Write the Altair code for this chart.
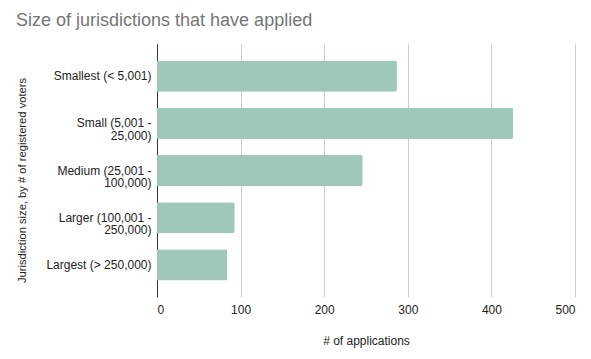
import altair as alt
import pandas as pd

categories = [
    "Smallest (< 5,001)",
    "Small (5,001 -|25,000)",
    "Medium (25,001 -|100,000)",
    "Larger (100,001 -|250,000)",
    "Largest (> 250,000)",
]
applications = [287, 426, 246, 93, 84]
x_ticks = [0, 100, 200, 300, 400, 500]

df = pd.DataFrame({"category": categories, "applications": applications})

FONT = "Liberation Sans"

chart = (
    alt.Chart(df)
    .mark_bar(color="#9fc8bb", cornerRadiusTopRight=2, cornerRadiusBottomRight=2)
    .encode(
        x=alt.X(
            "applications:Q",
            scale=alt.Scale(domain=[0, 500], nice=False),
            axis=alt.Axis(
                values=x_ticks,
                title="# of applications",
                domain=False,
                ticks=False,
                grid=True,
                gridColor="#cccccc",
                labelPadding=7,
                titlePadding=20,
            ),
        ),
        y=alt.Y(
            "category:N",
            sort=categories,
            scale=alt.Scale(paddingInner=0.34, paddingOuter=0.35),
            axis=alt.Axis(
                title="Jurisdiction size, by # of registered voters",
                labelExpr="split(datum.label, '|')",
                domain=True,
                domainColor="#333333",
                ticks=False,
                labelPadding=6,
                titleX=-130,
                titleY=136,
                titleFontSize=11.2,
                labelLineHeight=12.5,
            ),
        ),
    )
    .properties(
        width=418,
        height=253,
        autosize=alt.AutoSizeParams(type="none"),
        padding={"left": 157, "top": 44, "right": 16, "bottom": 62},
        title=alt.TitleParams(
            "Size of jurisdictions that have applied",
            anchor="start",
            frame="group",
            dx=-141,
            offset=14,
            fontSize=18,
            font=FONT,
            fontWeight="normal",
            color="#757575",
        ),
    )
    .configure_axis(
        labelFont=FONT,
        titleFont=FONT,
        labelFontSize=12,
        titleFontSize=12,
        labelColor="#222222",
        titleColor="#222222",
        titleFontWeight="normal",
    )
    .configure_view(stroke=None)
)

chart.save("out.html", embed_options={"renderer": "svg", "actions": False})
